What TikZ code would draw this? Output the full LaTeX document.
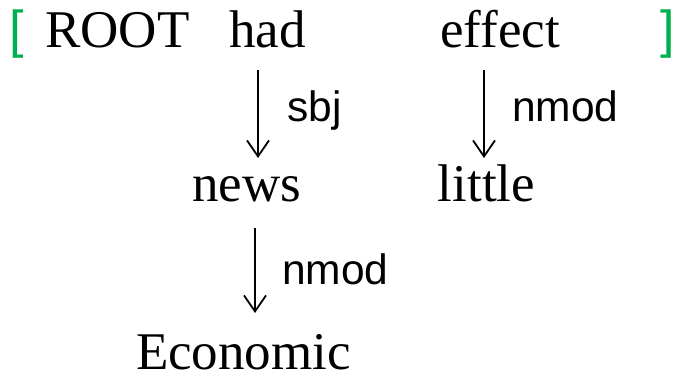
\documentclass[tikz,border=0pt]{standalone}
\usepackage{fontspec}
\setmainfont{Liberation Serif}
\newfontfamily\labfont{Liberation Sans}
\usetikzlibrary{arrows.meta,positioning}
\definecolor{brkgreen}{RGB}{0,176,80}

\begin{document}
\begin{tikzpicture}[x=1pt,y=1pt,>={Straight Barb[length=16pt,width=22pt]}]
\tikzstyle{word}=[inner sep=0pt,anchor=base,font=\fontsize{53}{62}\selectfont]
\tikzstyle{lab}=[inner sep=0pt,anchor=base west,font=\labfont\fontsize{42.5}{50}\selectfont]
\tikzstyle{brk}=[inner sep=0pt,text=brkgreen,font=\labfont\fontsize{52}{60}\selectfont]
\tikzstyle{dep}=[->,line width=1.8pt]
\useasboundingbox (0,0) rectangle (675,382);
% stack brackets
\node[brk,anchor=base west] (lb) at (9.5,334) {[};
\node[brk,anchor=base east] (rb) at (675,334) {]};
% words
\node[word] (root) at (117.5,334) {ROOT};
\node[word] (had) at (267.5,334) {had};
\node[word] (effect) at (500,334) {effect};
\node[word] (news) at (246.5,180) {news};
\node[word] (little) at (486.5,180) {little};
\node[word] (econ) at (243.5,12) {Economic};
% arcs
\draw[dep] ([xshift=-9.5pt,yshift=-22pt]had.base) -- ([xshift=11.5pt,yshift=44pt]news.base);
\draw[dep] ([xshift=-16pt,yshift=-22pt]effect.base) -- ([xshift=-2.5pt,yshift=44pt]little.base);
\draw[dep] ([xshift=8.5pt,yshift=-26pt]news.base) -- ([xshift=11.5pt,yshift=57pt]econ.base);
\node[lab] (sbj) at (287,260) {sbj};
\node[lab] (nmodl) at (512,260) {nmod};
\node[lab] (nmodn) at (282,97) {nmod};
\end{tikzpicture}
\end{document}
